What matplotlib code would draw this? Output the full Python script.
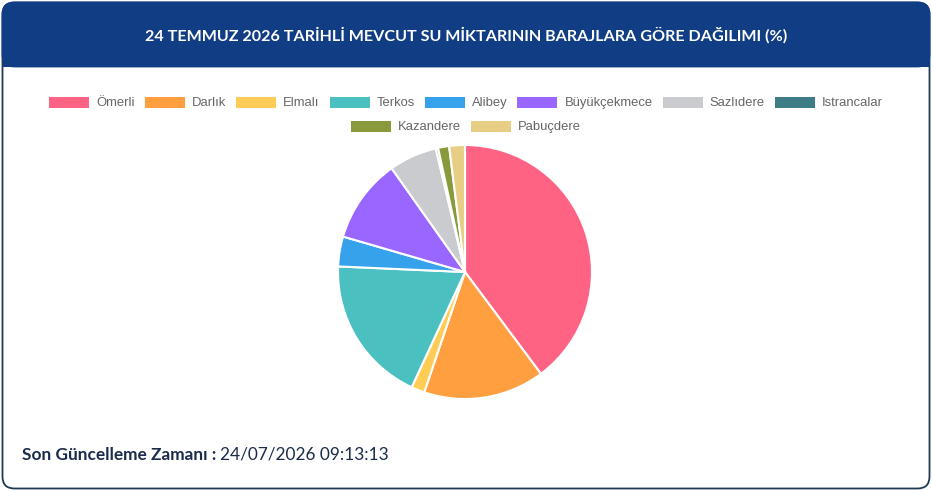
import matplotlib.pyplot as plt
from matplotlib.patches import FancyBboxPatch, Rectangle
import numpy as np

# Dam names and share of current water volume (%)
dams = ['Ömerli', 'Darlık', 'Elmalı', 'Terkos', 'Alibey', 'Büyükçekmece',
        'Sazlıdere', 'Istrancalar', 'Kazandere', 'Pabuçdere']
shares = [39.8, 15.4, 1.7, 18.8, 3.8, 10.7, 6.1, 0.3, 1.4, 2.0]
colors = ['#FF6384', '#FF9F40', '#FFCD56', '#4BC0C0', '#36A2EB', '#9966FF',
          '#C9CBCF', '#3F7D86', '#889A3C', '#E8CD85']

title = '24 TEMMUZ 2026 TARİHLİ MEVCUT SU MİKTARININ BARAJLARA GÖRE DAĞILIMI (%)'
update_label = 'Son Güncelleme Zamanı :'
update_time = '24/07/2026 09:13:13'

W, H = 932, 491
fig = plt.figure(figsize=(W / 100, H / 100), dpi=100)
fig.patch.set_facecolor('white')

# background axes in pixel coordinates
bg = fig.add_axes([0, 0, 1, 1])
bg.set_xlim(0, W)
bg.set_ylim(H, 0)
bg.axis('off')

navy = '#113D84'
card = FancyBboxPatch((2.5, 2.5), W - 5, H - 5, boxstyle='round,pad=0,rounding_size=12',
                      facecolor='white', edgecolor='#1F3A55', linewidth=1.3)
bg.add_patch(card)
header = FancyBboxPatch((2.5, 2.5), W - 5, 64, boxstyle='round,pad=0,rounding_size=12',
                        facecolor=navy, edgecolor=navy, linewidth=1.3)
bg.add_patch(header)
bg.add_patch(Rectangle((2.5, 40), W - 5, 26.5, facecolor=navy, edgecolor='none'))

bg.text(W / 2, 35, title, color='white', fontsize=11.6, fontweight='bold',
        family='Lato', ha='center', va='center')

# footer
t1 = bg.text(22, 455, update_label + ' ', color='#1B2B4B', fontsize=12.4,
             fontweight='bold', family='Lato', ha='left', va='center')
fig.canvas.draw()
bb = t1.get_window_extent()
bg.text(bb.x1, 455, update_time, color='#1B2B4B', fontsize=12.4,
        family='Lato', ha='left', va='center')

# legend laid out in two centered rows like the web chart
rows = [list(range(8)), [8, 9]]
row_y = [102.5, 126.5]
box_w, box_h, gap_txt, gap_item = 40, 11, 7, 10
fs_leg = 9.4
renderer = fig.canvas.get_renderer()
for r, ys in zip(rows, row_y):
    widths = []
    for i in r:
        t = bg.text(0, 0, dams[i], fontsize=fs_leg, family='Liberation Sans')
        widths.append(t.get_window_extent(renderer).width)
        t.remove()
    total = sum(box_w + gap_txt + w for w in widths) + gap_item * (len(r) - 1)
    x = W / 2 - total / 2
    for i, w in zip(r, widths):
        bg.add_patch(Rectangle((x, ys - box_h / 2), box_w, box_h,
                               facecolor=colors[i], edgecolor='none'))
        bg.text(x + box_w + gap_txt, ys, dams[i], fontsize=fs_leg, family='Liberation Sans',
                color='#666666', ha='left', va='center')
        x += box_w + gap_txt + w + gap_item

# pie
cx, cy, rad = 465, 272, 127
pax = fig.add_axes([(cx - rad) / W, (H - cy - rad) / H, 2 * rad / W, 2 * rad / H])
pax.pie(shares, colors=colors, startangle=90, counterclock=False,
        wedgeprops=dict(edgecolor='white', linewidth=1.5))
pax.set_xlim(-1, 1)
pax.set_ylim(-1, 1)
pax.set_aspect('auto')
pax.axis('off')

fig.savefig('out.png', dpi=100)
